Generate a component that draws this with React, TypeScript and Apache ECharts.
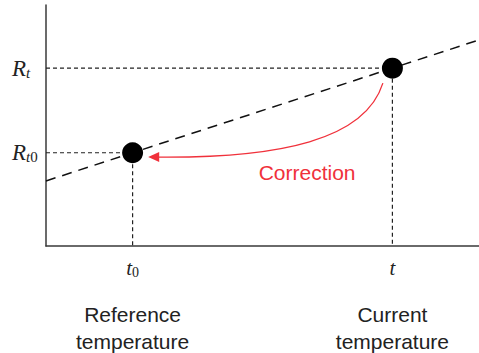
import React, { useEffect, useRef } from "react";
import * as echarts from "echarts";

// Tick positions (data units) and their names
const xTicks = [2, 8];
const xTickMain = ["t", "t"];
const xTickSub = ["0", ""];
const xCaptionLine1 = ["Reference", "Current"];
const xCaptionLine2 = ["temperature", "temperature"];
const yTicks = [3.87, 7.38];
const yTickSubT = ["t", "t"];
const yTickSub0 = ["0", ""];

// Calibration line (dashed) end points
const lineX = [0, 10];
const lineY = [2.7, 8.55];

// Measured points
const pointX = [2, 8];
const pointY = [3.87, 7.38];

// Correction arrow (data coords): start, control 1, control 2, end, tip
const arrowX = [7.78, 7.37, 5.4, 2.59, 2.36];
const arrowY = [6.76, 4.4, 3.65, 3.69, 3.69];
const arrowText = "Correction";
const arrowTextX = 6.03;
const arrowTextY = 3.03;

const RED = "#f0313b";
const INK = "#222";

function idx(arr: number[], v: number) {
  let best = 0;
  for (let i = 1; i < arr.length; i++) {
    if (Math.abs(arr[i] - v) < Math.abs(arr[best] - v)) best = i;
  }
  return best;
}

export default function App() {
  const ref = useRef<HTMLDivElement>(null);
  useEffect(() => {
    if (!ref.current) return;
    const chart = echarts.init(ref.current, null, { renderer: "svg" });
    const guideSeries = pointX.map((x, i) => ({
      type: "line",
      data: [
        [0, pointY[i]],
        [x, pointY[i]],
        [x, 0],
      ],
      symbol: "none",
      silent: true,
      z: 2,
      lineStyle: { color: INK, width: 1.2, type: [4, 3] },
    }));
    const option: any = {
      animation: false,
      grid: { left: 46, right: 0, top: 5, bottom: 107, containLabel: false, outerBoundsMode: "none" },
      xAxis: {
        type: "value",
        min: 0,
        max: 10,
        splitLine: { show: false },
        axisTick: { show: false },
        axisLine: { show: true, lineStyle: { color: "#3a3a3a", width: 1.5 } },
        axisLabel: {
          show: true,
          customValues: xTicks,
          margin: 11,
          formatter: (v: number) => {
            const i = idx(xTicks, v);
            const sub = xTickSub[i] ? `{s0|${xTickSub[i]}}` : "";
            return `{it|${xTickMain[i]}}${sub}\n{sp| }\n{cap|${xCaptionLine1[i]}}\n{cap|${xCaptionLine2[i]}}`;
          },
          rich: {
            it: { fontFamily: "Liberation Serif", fontStyle: "italic", fontSize: 21, lineHeight: 22, color: INK },
            s0: { fontFamily: "Liberation Serif", fontSize: 14, lineHeight: 13, verticalAlign: "bottom", color: INK },
            sp: { fontSize: 10, lineHeight: 21.5 },
            cap: { fontFamily: "Liberation Sans", fontSize: 21, lineHeight: 27, color: INK },
          },
        },
      },
      yAxis: {
        type: "value",
        min: 0,
        max: 10,
        splitLine: { show: false },
        axisTick: { show: false },
        axisLine: { show: true, lineStyle: { color: "#3a3a3a", width: 1.5 } },
        axisLabel: {
          show: true,
          customValues: yTicks,
          margin: 34,
          align: "left",
          formatter: (v: number) => {
            const i = idx(yTicks, v);
            const s0 = yTickSub0[i] ? `{s0|${yTickSub0[i]}}` : "";
            return `{r|R}{st|${yTickSubT[i]}}${s0}`;
          },
          rich: {
            r: { fontFamily: "Liberation Serif", fontStyle: "italic", fontSize: 23, lineHeight: 24, color: INK },
            st: { fontFamily: "Liberation Serif", fontStyle: "italic", fontSize: 15, lineHeight: 13, verticalAlign: "bottom", color: INK },
            s0: { fontFamily: "Liberation Serif", fontSize: 15, lineHeight: 13, verticalAlign: "bottom", color: INK },
          },
        },
      },
      series: [
        ...guideSeries,
        {
          type: "line",
          data: lineX.map((x, i) => [x, lineY[i]]),
          symbol: "none",
          silent: true,
          z: 3,
          lineStyle: { color: "#111", width: 1.5, type: [10, 7] },
        },
        {
          type: "scatter",
          data: pointX.map((x, i) => [x, pointY[i]]),
          symbolSize: 21,
          z: 5,
          itemStyle: { color: "#000", opacity: 1, borderWidth: 0 },
        },
        {
          type: "custom",
          z: 6,
          clip: false,
          data: [[0, 0]],
          renderItem: (_params: any, api: any) => {
            const p = arrowX.map((x, i) => api.coord([x, arrowY[i]]));
            const tip = p[4];
            const lab = api.coord([arrowTextX, arrowTextY]);
            return {
              type: "group",
              children: [
                {
                  type: "bezierCurve",
                  shape: {
                    x1: p[0][0], y1: p[0][1],
                    cpx1: p[1][0], cpy1: p[1][1],
                    cpx2: p[2][0], cpy2: p[2][1],
                    x2: p[3][0], y2: p[3][1],
                  },
                  style: { stroke: RED, lineWidth: 1.3, fill: null },
                },
                {
                  type: "polygon",
                  shape: {
                    points: [
                      [tip[0], tip[1]],
                      [tip[0] + 11, tip[1] - 5],
                      [tip[0] + 11, tip[1] + 5],
                    ],
                  },
                  style: { fill: RED },
                },
                {
                  type: "text",
                  x: lab[0],
                  y: lab[1],
                  style: {
                    text: arrowText,
                    fill: RED,
                    fontSize: 21,
                    fontFamily: "Liberation Sans",
                    align: "center",
                    verticalAlign: "middle",
                    textAlign: "center",
                    textVerticalAlign: "middle",
                  },
                },
              ],
            };
          },
        },
      ],
    };
    chart.setOption(option);
    return () => chart.dispose();
  }, []);
  return (
    <div
      ref={ref}
      style={{ position: "fixed", left: 0, top: 0, width: 479, height: 353, background: "#fff" }}
    />
  );
}
